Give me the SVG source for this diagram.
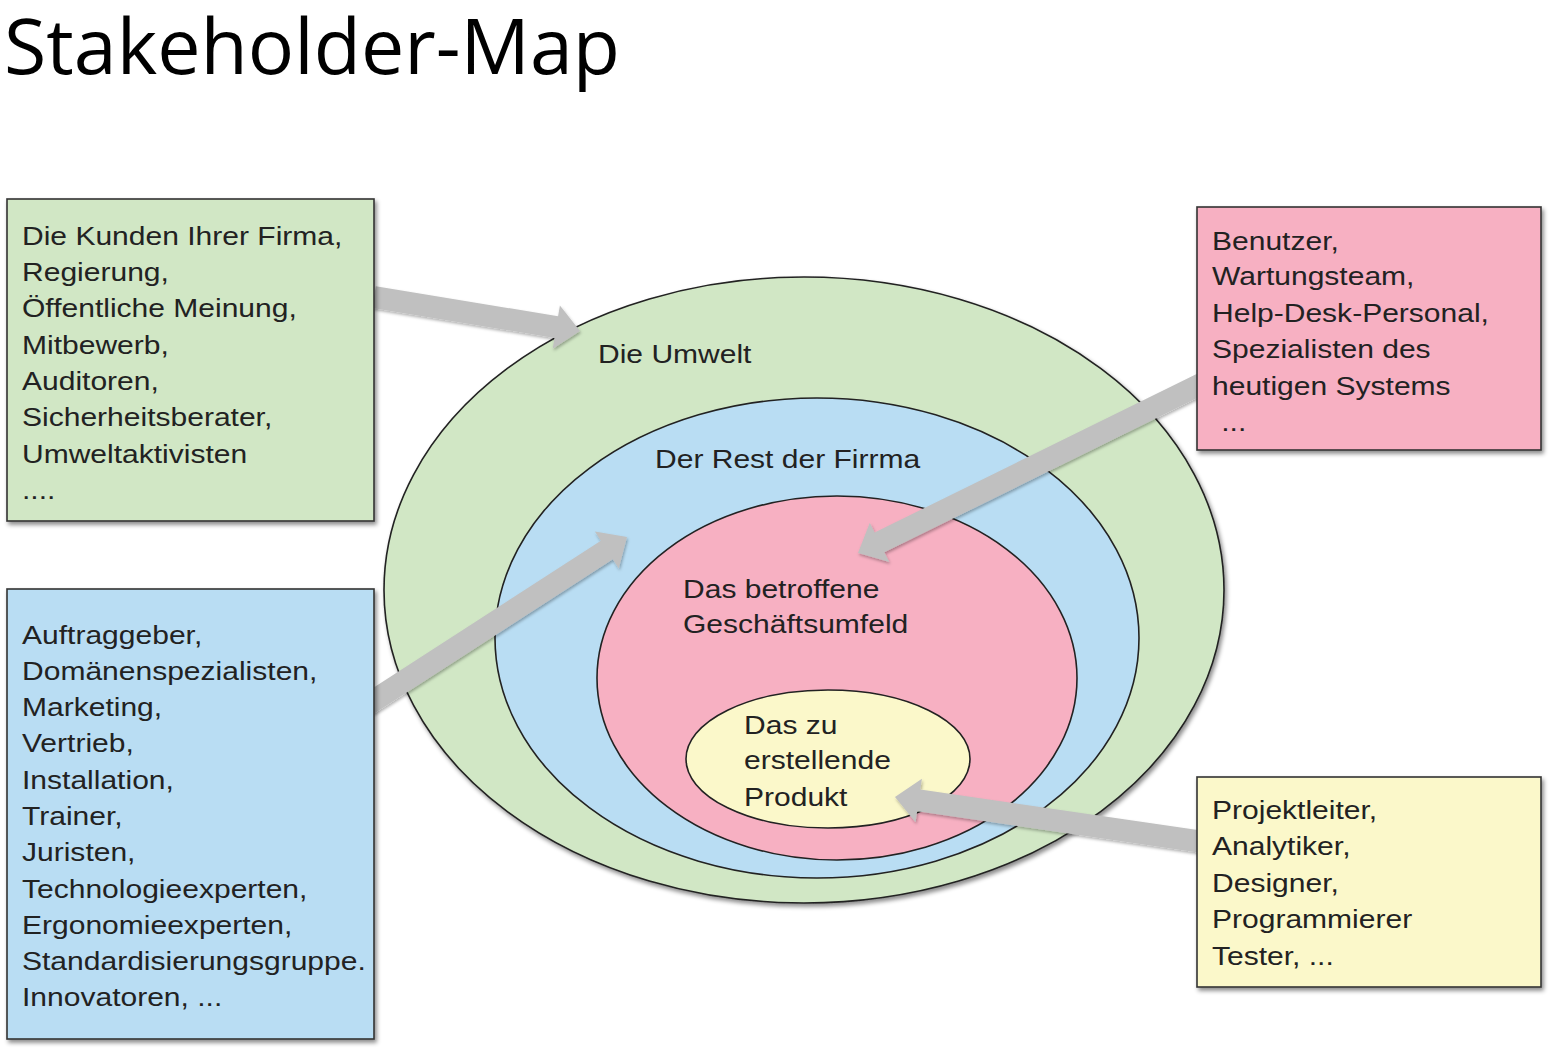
<svg xmlns="http://www.w3.org/2000/svg" width="1562" height="1055" viewBox="0 0 1562 1055">
<defs>
<filter id="sh" x="-10%" y="-10%" width="120%" height="120%">
<feDropShadow dx="2" dy="3" stdDeviation="2" flood-color="#000" flood-opacity="0.45"/>
</filter>
<filter id="ash" x="-10%" y="-20%" width="120%" height="140%">
<feDropShadow dx="1" dy="2" stdDeviation="1.5" flood-color="#000" flood-opacity="0.3"/>
</filter>
</defs>
<style>
.t{font-family:"Liberation Sans",Arial,sans-serif;font-size:26px;fill:#222}
.ell{stroke:#222;stroke-width:1.6}
.box{stroke:#333;stroke-width:1.6}
.arr{fill:#c0c0c0}
.g{fill:#d1e7c5}.b{fill:#b9ddf3}.p{fill:#f7b0c2}.y{fill:#fbf8ca}
</style>
<rect width="1562" height="1055" fill="#fff"/>
<text x="4" y="74" font-family="'Open Sans','Noto Sans',sans-serif" font-size="76" fill="#000" textLength="616" lengthAdjust="spacingAndGlyphs">Stakeholder-Map</text>

<g id="ellipses" filter="url(#sh)">
<g id="umwelt"><ellipse class="ell g" cx="804" cy="590" rx="420" ry="313"/></g>
<g id="firma"><ellipse class="ell b" cx="817" cy="638" rx="322" ry="240"/></g>
<g id="geschaeft"><ellipse class="ell p" cx="837" cy="678" rx="240" ry="182"/></g>
<g id="produkt"><ellipse class="ell y" cx="828" cy="759" rx="142" ry="69"/></g>
</g>
<g id="ellipse-labels">
<g transform="translate(598 0) scale(1.155 1)"><text class="t" x="0" y="363">Die Umwelt</text></g>
<g transform="translate(655 0) scale(1.155 1)"><text class="t" x="0" y="468">Der Rest der Firrma</text></g>
<g transform="translate(683 0) scale(1.155 1)"><text class="t" x="0" y="598">Das betroffene</text>
<text class="t" x="0" y="633">Geschäftsumfeld</text></g>
<g transform="translate(744 0) scale(1.155 1)"><text class="t" x="0" y="734">Das zu</text>
<text class="t" x="0" y="769">erstellende</text>
<text class="t" x="0" y="806">Produkt</text></g>
</g>

<g id="connectors" filter="url(#ash)">
<polygon class="arr" points="372.2,307.9 554.5,337.9 552.7,348.8 580,331 559.9,305.4 558.1,316.3 375.8,286.2"/>
<polygon class="arr" points="372.97,714.24 612.81,559.26 618.78,568.50 627,537 594.90,531.54 600.87,540.78 361.03,695.76"/>
<polygon class="arr" points="1198.14,373.13 874.67,532.52 869.81,522.66 858,553 889.25,562.12 884.39,552.26 1207.86,392.87"/>
<polygon class="arr" points="1204.59,831.12 920.34,789.59 921.93,778.70 895,797 915.57,822.24 917.16,811.35 1201.41,852.88"/>
</g>

<g id="box-umwelt">
<rect class="box g" x="7" y="199" width="367" height="322" filter="url(#sh)"/>
<g transform="translate(22 0) scale(1.155 1)">
<text class="t" x="0" y="245">Die Kunden Ihrer Firma,</text>
<text class="t" x="0" y="281">Regierung,</text>
<text class="t" x="0" y="317">Öffentliche Meinung,</text>
<text class="t" x="0" y="354">Mitbewerb,</text>
<text class="t" x="0" y="390">Auditoren,</text>
<text class="t" x="0" y="426">Sicherheitsberater,</text>
<text class="t" x="0" y="463">Umweltaktivisten</text>
<text class="t" x="0" y="499">....</text>
</g>
</g>

<g id="box-geschaeft">
<rect class="box p" x="1197" y="207" width="344" height="243" filter="url(#sh)"/>
<g transform="translate(1212 0) scale(1.155 1)">
<text class="t" x="0" y="250">Benutzer,</text>
<text class="t" x="0" y="285">Wartungsteam,</text>
<text class="t" x="0" y="322">Help-Desk-Personal,</text>
<text class="t" x="0" y="358">Spezialisten des</text>
<text class="t" x="0" y="395">heutigen Systems</text>
<text class="t" x="8" y="431">...</text>
</g>
</g>

<g id="box-firma">
<rect class="box b" x="7" y="589" width="367" height="450" filter="url(#sh)"/>
<g transform="translate(22 0) scale(1.155 1)">
<text class="t" x="0" y="644">Auftraggeber,</text>
<text class="t" x="0" y="680">Domänenspezialisten,</text>
<text class="t" x="0" y="716">Marketing,</text>
<text class="t" x="0" y="752">Vertrieb,</text>
<text class="t" x="0" y="789">Installation,</text>
<text class="t" x="0" y="825">Trainer,</text>
<text class="t" x="0" y="861">Juristen,</text>
<text class="t" x="0" y="898">Technologieexperten,</text>
<text class="t" x="0" y="934">Ergonomieexperten,</text>
<text class="t" x="0" y="970">Standardisierungsgruppe.</text>
<text class="t" x="0" y="1006">Innovatoren, ...</text>
</g>
</g>

<g id="box-produkt">
<rect class="box y" x="1197" y="777" width="344" height="210" filter="url(#sh)"/>
<g transform="translate(1212 0) scale(1.155 1)">
<text class="t" x="0" y="819">Projektleiter,</text>
<text class="t" x="0" y="855">Analytiker,</text>
<text class="t" x="0" y="892">Designer,</text>
<text class="t" x="0" y="928">Programmierer</text>
<text class="t" x="0" y="965">Tester, ...</text>
</g>
</g>
</svg>
